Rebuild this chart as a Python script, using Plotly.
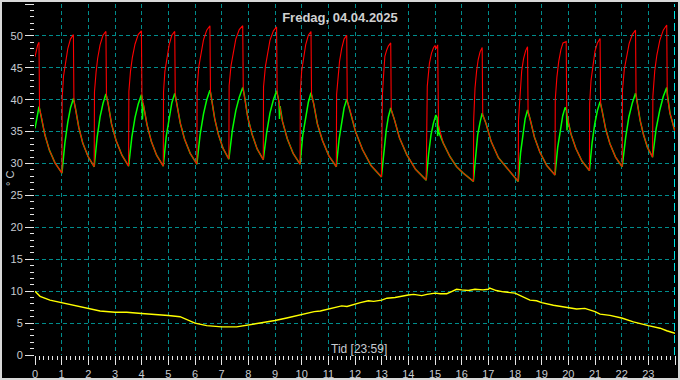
import plotly.graph_objects as go

# ---------------- data ----------------
red_t = [0.00, 0.05, 0.10, 0.15,
         0.17, 0.24, 0.37, 0.54, 0.75, 1.01,
         1.02, 1.07, 1.14, 1.23, 1.33, 1.44,
         1.46, 1.52, 1.64, 1.79, 1.99, 2.22,
         2.23, 2.29, 2.35, 2.44, 2.55, 2.66,
         2.68, 2.75, 2.87, 3.04, 3.26, 3.51,
         3.52, 3.58, 3.65, 3.75, 3.87, 3.99,
         4.01, 4.07, 4.20, 4.36, 4.56, 4.81,
         4.82, 4.87, 4.94, 5.03, 5.13, 5.24,
         5.26, 5.32, 5.45, 5.61, 5.82, 6.07,
         6.08, 6.14, 6.22, 6.32, 6.44, 6.56,
         6.58, 6.63, 6.74, 6.88, 7.06, 7.27,
         7.28, 7.35, 7.43, 7.53, 7.66, 7.79,
         7.81, 7.87, 7.98, 8.14, 8.33, 8.56,
         8.57, 8.64, 8.71, 8.81, 8.94, 9.06,
         9.08, 9.15, 9.28, 9.46, 9.68, 9.94,
         9.95, 10.00, 10.06, 10.15, 10.25, 10.35,
         10.37, 10.45, 10.59, 10.78, 11.02, 11.30,
         11.31, 11.36, 11.42, 11.50, 11.59, 11.69,
         11.71, 11.82, 12.02, 12.28, 12.60, 12.99,
         13.00, 13.03, 13.06, 13.12, 13.19, 13.25, 13.34,
         13.36, 13.47, 13.67, 13.94, 14.27, 14.67,
         14.68, 14.71, 14.79, 14.87, 14.94, 15.00, 15.04, 15.10,
         15.13, 15.31, 15.56, 15.81, 16.06, 16.44,
         16.45, 16.50, 16.56, 16.62, 16.69, 16.77,
         16.79, 16.91, 17.11, 17.38, 17.72, 18.12,
         18.13, 18.19, 18.25, 18.32, 18.40, 18.47,
         18.49, 18.57, 18.73, 18.93, 19.19, 19.50,
         19.51, 19.57, 19.64, 19.72, 19.80, 19.92,
         19.94, 20.00, 20.10, 20.28, 20.51, 20.79,
         20.80, 20.85, 20.92, 21.00, 21.09, 21.19,
         21.21, 21.27, 21.40, 21.56, 21.77, 22.02,
         22.03, 22.10, 22.18, 22.28, 22.40, 22.52,
         22.54, 22.59, 22.69, 22.82, 22.97, 23.16,
         23.17, 23.24, 23.32, 23.43, 23.56, 23.69,
         23.71, 23.81, 23.93, 24.00]
red_v = [46.7, 47.8, 48.6, 49.0,
         38.6, 37.3, 34.5, 32.1, 30.1, 28.5,
         40.4, 43.7, 45.9, 48.0, 49.5, 50.2,
         39.9, 38.6, 35.7, 33.2, 31.1, 29.5,
         41.2, 44.3, 46.5, 48.6, 50.1, 50.7,
         40.6, 39.2, 36.2, 33.6, 31.3, 29.6,
         41.3, 44.4, 46.6, 48.7, 50.2, 50.8,
         40.5, 39.1, 36.1, 33.5, 31.3, 29.6,
         41.2, 44.4, 46.5, 48.6, 50.1, 50.7,
         40.7, 39.3, 36.3, 33.8, 31.6, 29.9,
         41.8, 45.1, 47.3, 49.4, 50.9, 51.6,
         41.2, 39.9, 37.0, 34.5, 32.3, 30.7,
         42.2, 45.3, 47.4, 49.5, 51.0, 51.6,
         41.6, 40.2, 37.2, 34.6, 32.3, 30.6,
         42.0, 45.2, 47.2, 49.3, 50.8, 51.4,
         41.1, 39.7, 36.6, 33.9, 31.6, 29.9,
         41.3, 44.5, 46.5, 48.6, 50.1, 50.7,
         40.8, 39.4, 36.2, 33.6, 31.2, 29.5,
         40.8, 43.9, 46.0, 48.0, 49.5, 50.1,
         39.8, 38.3, 35.0, 32.2, 29.7, 27.9,
         37.4, 41.0, 43.1, 46.8, 47.8, 48.4, 48.9,
         38.4, 37.0, 34.0, 31.4, 29.1, 27.4,
         35.3, 42.1, 45.7, 47.3, 48.1, 48.5, 48.0, 48.6,
         36.0, 33.2, 31.1, 29.5, 28.5, 27.2,
         36.8, 41.8, 44.5, 46.3, 47.5, 48.2,
         37.6, 36.3, 33.4, 30.9, 29.2, 27.2,
         36.8, 41.8, 44.5, 46.4, 47.7, 48.3,
         38.1, 36.9, 34.1, 31.8, 29.7, 28.2,
         40.0, 43.5, 46.0, 47.8, 48.9, 49.1,
         38.2, 36.5, 34.6, 32.4, 30.4, 28.9,
         39.4, 43.0, 45.5, 47.6, 48.9, 49.6,
         39.4, 38.2, 35.4, 33.1, 31.0, 29.5,
         41.5, 44.8, 46.9, 48.8, 50.2, 50.9,
         40.7, 39.5, 36.8, 34.5, 32.5, 31.0,
         40.5, 44.5, 47.0, 49.3, 50.9, 51.7,
         40.6, 37.9, 35.8, 35.0]

green_t = [0.00, 0.05, 0.10, 0.15,
           0.17, 0.24, 0.37, 0.54, 0.75, 1.01,
           1.12, 1.23, 1.33, 1.44,
           1.46, 1.52, 1.64, 1.79, 1.99, 2.22,
           2.33, 2.44, 2.55, 2.66,
           2.68, 2.75, 2.87, 3.04, 3.26, 3.51,
           3.63, 3.75, 3.87, 3.99,
           4.01, 4.03, 4.05, 4.07, 4.20, 4.36, 4.56, 4.81,
           4.92, 5.03, 5.13, 5.24,
           5.26, 5.32, 5.45, 5.61, 5.82, 6.07,
           6.19, 6.32, 6.44, 6.56,
           6.58, 6.63, 6.74, 6.88, 7.06, 7.27,
           7.40, 7.53, 7.66, 7.79,
           7.81, 7.87, 7.98, 8.14, 8.33, 8.56,
           8.69, 8.81, 8.94, 9.06,
           9.08, 9.15, 9.17, 9.19, 9.28, 9.46, 9.68, 9.94,
           10.04, 10.15, 10.25, 10.35,
           10.37, 10.45, 10.59, 10.78, 11.02, 11.30,
           11.40, 11.50, 11.59, 11.69,
           11.71, 11.82, 12.02, 12.28, 12.60, 12.99,
           13.08, 13.17, 13.25, 13.34,
           13.36, 13.47, 13.67, 13.94, 14.27, 14.67,
           14.76, 14.85, 14.94, 15.03,
           15.08, 15.10, 15.12, 15.15, 15.31, 15.56, 15.81, 16.06, 16.44,
           16.52, 16.60, 16.69, 16.77,
           16.79, 16.91, 17.11, 17.38, 17.72, 18.12,
           18.21, 18.30, 18.38, 18.47,
           18.49, 18.57, 18.73, 18.93, 19.19, 19.50,
           19.60, 19.70, 19.79, 19.88,
           19.93, 19.95, 19.97, 20.00, 20.10, 20.28, 20.51, 20.79,
           20.89, 20.99, 21.09, 21.19,
           21.21, 21.27, 21.40, 21.56, 21.77, 22.02,
           22.15, 22.27, 22.40, 22.52,
           22.54, 22.59, 22.69, 22.82, 22.97, 23.16,
           23.29, 23.43, 23.56, 23.69,
           23.71, 23.81, 23.93, 24.00]
green_v = [35.5, 36.8, 38.0, 38.9,
           38.6, 37.3, 34.5, 32.1, 30.1, 28.5,
           33.2, 36.5, 38.7, 40.2,
           39.9, 38.6, 35.7, 33.2, 31.1, 29.5,
           34.1, 37.3, 39.4, 40.9,
           40.6, 39.2, 36.2, 33.6, 31.3, 29.6,
           34.1, 37.2, 39.3, 40.8,
           40.5, 36.9, 39.4, 39.1, 36.1, 33.5, 31.3, 29.6,
           34.2, 37.4, 39.5, 41.0,
           40.7, 39.3, 36.3, 33.8, 31.6, 29.9,
           34.5, 37.8, 40.0, 41.5,
           41.2, 39.9, 37.0, 34.5, 32.3, 30.7,
           35.2, 38.3, 40.4, 41.9,
           41.6, 40.2, 37.2, 34.6, 32.3, 30.6,
           34.9, 37.9, 40.0, 41.4,
           41.1, 39.7, 37.0, 39.0, 36.6, 33.9, 31.6, 29.9,
           34.4, 37.5, 39.6, 41.1,
           40.8, 39.4, 36.2, 33.6, 31.2, 29.5,
           33.7, 36.7, 38.7, 40.1,
           39.8, 38.3, 35.0, 32.2, 29.7, 27.9,
           32.2, 35.2, 37.3, 38.7,
           38.4, 37.0, 34.0, 31.4, 29.1, 27.4,
           31.5, 34.5, 36.3, 37.6,
           37.2, 34.3, 36.2, 34.8, 33.2, 31.1, 29.5, 28.5, 27.2,
           31.5, 34.5, 36.5, 37.9,
           37.6, 36.3, 33.4, 30.9, 29.2, 27.2,
           31.7, 34.9, 37.0, 38.4,
           38.1, 36.9, 34.1, 31.8, 29.7, 28.2,
           32.5, 35.5, 37.5, 38.8,
           38.3, 35.2, 37.4, 36.5, 34.6, 32.4, 30.4, 28.9,
           33.2, 36.2, 38.3, 39.7,
           39.4, 38.2, 35.4, 33.1, 31.0, 29.5,
           34.1, 37.3, 39.5, 41.0,
           40.7, 39.5, 36.8, 34.5, 32.5, 31.0,
           35.4, 38.4, 40.5, 41.9,
           41.0, 37.9, 35.8, 35.0]

outdoor_t = [0.00, 0.19, 0.56, 1.00, 1.44, 2.00, 2.44, 3.00, 3.44, 4.00,
             4.50, 5.00, 5.44, 5.69, 6.00, 6.44, 7.00, 7.56, 8.00, 8.50,
             9.00, 9.44, 10.00, 10.47, 10.70, 11.00, 11.30, 11.50, 11.70, 12.00,
             12.20, 12.50, 12.70, 13.00, 13.20, 13.50, 13.80, 14.00, 14.20, 14.50,
             14.70, 15.00, 15.20, 15.44, 15.56, 15.81, 16.00, 16.25, 16.50, 16.80,
             17.00, 17.05, 17.30, 17.56, 18.00, 18.31, 18.56, 18.81, 19.00, 19.44,
             20.00, 20.31, 20.62, 21.00, 21.19, 21.56, 22.00, 22.44, 23.00, 23.44,
             23.69, 24.00]
outdoor_v = [10.0, 9.2, 8.6, 8.2, 7.7, 7.2, 6.9, 6.7, 6.7, 6.5,
             6.4, 6.2, 6.0, 5.5, 5.0, 4.6, 4.4, 4.4, 4.7, 5.0,
             5.4, 5.8, 6.4, 6.8, 6.9, 7.2, 7.6, 7.7, 7.6, 8.0,
             8.2, 8.5, 8.4, 8.6, 8.9, 9.0, 9.3, 9.4, 9.5, 9.3,
             9.5, 9.7, 9.6, 9.6, 9.8, 10.3, 10.2, 10.1, 10.3, 10.2,
             10.3, 10.5, 10.1, 9.9, 9.7, 9.1, 8.6, 8.5, 8.2, 7.8,
             7.4, 7.2, 7.3, 6.8, 6.4, 6.2, 5.8, 5.2, 4.6, 4.2,
             3.8, 3.4]

x_ticks = list(range(0, 25))
y_ticks = list(range(0, 56, 5))
x_grid = list(range(1, 24))
y_grid = list(range(5, 51, 5))

title_text = "Fredag, 04.04.2025"
x_title = "Tid [23:59]"
y_title = "° C"

# ---------------- figure ----------------
W, H = 680, 380
ML, MR, MT, MB = 35, 5, 4, 25
PW, PH = W - ML - MR, H - MT - MB

FONT = "Liberation Sans, Arial, sans-serif"
LBL = "#c8ccd2"
TICK = "#e6e6e6"
GRID = "#008c8c"

fig = go.Figure()
fig.add_trace(go.Scatter(x=green_t, y=green_v, mode="lines",
                         line=dict(color="#00ff00", width=1.5),
                         hoverinfo="skip", showlegend=False))
fig.add_trace(go.Scatter(x=red_t, y=red_v, mode="lines",
                         line=dict(color="#ff0000", width=1.1),
                         hoverinfo="skip", showlegend=False))
fig.add_trace(go.Scatter(x=outdoor_t, y=outdoor_v, mode="lines",
                         line=dict(color="#ffff00", width=1.4),
                         hoverinfo="skip", showlegend=False))
# empty trace to create the labelled overlay axes
fig.add_trace(go.Scatter(x=[], y=[], xaxis="x2", yaxis="y2",
                         hoverinfo="skip", showlegend=False))

def px_to_paper_x(p):
    return (p - ML) / PW

def px_to_paper_y(p):
    return (H - MB - p) / PH

fig.update_layout(
    width=W, height=H,
    margin=dict(l=ML, r=MR, t=MT, b=MB, pad=0, autoexpand=False),
    paper_bgcolor="#000000",
    plot_bgcolor="#000000",
    font=dict(family=FONT, size=11, color=LBL),
    xaxis=dict(range=[0, 24], tickmode="array", tickvals=x_grid,
               showticklabels=False, ticks="", showgrid=True,
               gridcolor=GRID, griddash="4px,3px", gridwidth=1,
               zeroline=False, showline=False, fixedrange=True, automargin=False),
    yaxis=dict(range=[0, 55], tickmode="array", tickvals=y_grid,
               showticklabels=False, ticks="", showgrid=True,
               gridcolor=GRID, griddash="4px,3px", gridwidth=1,
               zeroline=False, showline=False, fixedrange=True, automargin=False),
    xaxis2=dict(overlaying="x", anchor="y", side="bottom", range=[0, 24],
                tickmode="array", tickvals=x_ticks,
                ticktext=[str(v) for v in x_ticks],
                ticks="outside", ticklen=9, tickwidth=1, tickcolor=TICK,
                tickfont=dict(family=FONT, size=11, color=LBL),
                minor=dict(ticks="outside", ticklen=4, tickwidth=1,
                           tickcolor=TICK, tick0=0, dtick=1 / 6, showgrid=False),
                showgrid=False, zeroline=False, showline=False, fixedrange=True,
                automargin=False),
    yaxis2=dict(overlaying="y", anchor="x", side="left", range=[0, 55],
                tickmode="array", tickvals=y_ticks,
                ticktext=[str(v) for v in y_ticks],
                ticks="outside", ticklen=9, tickwidth=1, tickcolor=TICK,
                tickfont=dict(family=FONT, size=11, color=LBL),
                minor=dict(ticks="outside", ticklen=4, tickwidth=1,
                           tickcolor=TICK, tick0=0, dtick=1, showgrid=False),
                showgrid=False, zeroline=False, showline=False, fixedrange=True,
                automargin=False),
    title=dict(text="<b>" + title_text + "</b>", x=0.5, xref="container",
               xanchor="center", y=1 - 17 / H, yref="container", yanchor="middle",
               font=dict(family=FONT, size=13, color="#d0d0d0"), automargin=False),
    annotations=[
        dict(text=x_title, xref="paper", yref="paper",
             x=px_to_paper_x(359), y=px_to_paper_y(349),
             xanchor="center", yanchor="middle", showarrow=False,
             font=dict(family=FONT, size=12, color=LBL)),
        dict(text=y_title, xref="paper", yref="paper",
             x=px_to_paper_x(10), y=px_to_paper_y(179),
             xanchor="center", yanchor="middle", showarrow=False, textangle=-90,
             font=dict(family=FONT, size=11, color=LBL)),
    ],
    shapes=[
        # current-time marker at the right edge
        dict(type="line", xref="x", yref="paper", x0=24, x1=24, y0=0, y1=1,
             line=dict(color="#00e5e5", width=2, dash="8px,4px"), layer="above"),
        # outer frame
        dict(type="rect", xref="paper", yref="paper",
             x0=px_to_paper_x(1), x1=px_to_paper_x(W - 1),
             y0=px_to_paper_y(H - 1), y1=px_to_paper_y(1),
             line=dict(color="#d8d8d8", width=2), fillcolor="rgba(0,0,0,0)",
             layer="above"),
    ],
)

fig.write_html(
    "out.html",
    config={"displayModeBar": False},
    post_script="document.body.style.margin='0';document.body.style.padding='0';"
                "document.body.style.overflow='hidden';"
                "document.body.style.background='#000';",
)
